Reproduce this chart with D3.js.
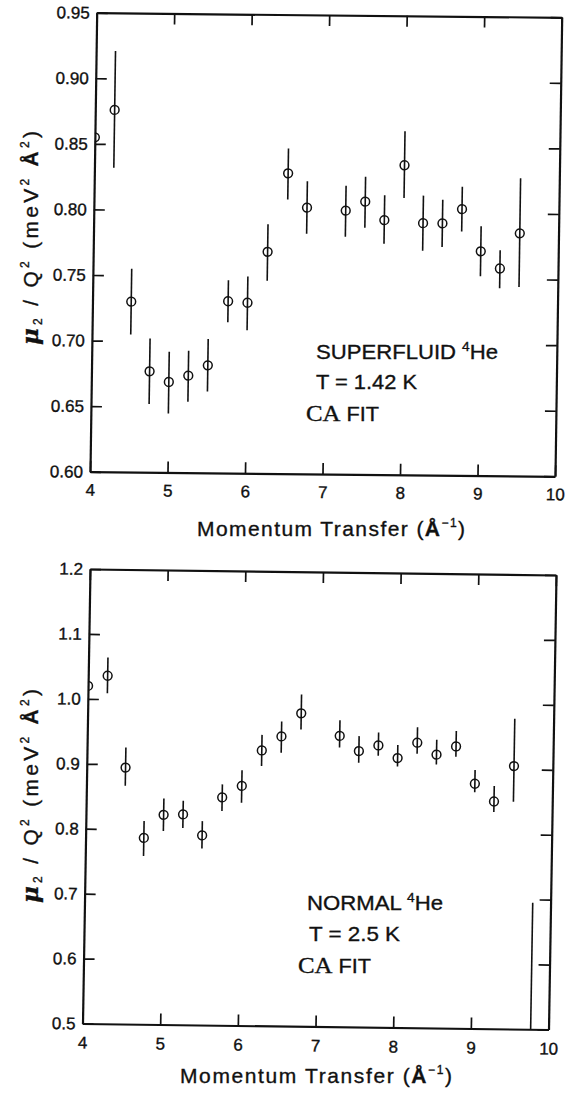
<!DOCTYPE html>
<html><head><meta charset="utf-8">
<script src="https://cdn.jsdelivr.net/npm/d3@7"></script>
<style>
body{margin:0;background:#fff}
svg{display:block}
text{font-family:"Liberation Sans",Arial,Helvetica,sans-serif;fill:#111;stroke:#111;stroke-width:0.35px}
</style>
</head><body>
<svg id="chart" width="570" height="1097"></svg>
<script>
// ---------- data ----------
const xTicks = [4, 5, 6, 7, 8, 9, 10];

// Superfluid 4He, T = 1.42 K
const qTop   = [4.0, 4.25, 4.5, 4.75, 5.0, 5.25, 5.5, 5.75, 6.0, 6.25, 6.5, 6.75, 7.25, 7.5, 7.75, 8.0, 8.25, 8.5, 8.75, 9.0, 9.25, 9.5];
const valTop = [0.855, 0.876, 0.730, 0.677, 0.669, 0.674, 0.682, 0.731, 0.730, 0.769, 0.829, 0.803, 0.801, 0.808, 0.794, 0.836, 0.792, 0.792, 0.803, 0.771, 0.758, 0.785];
const loTop  = [0.855, 0.832, 0.705, 0.652, 0.645, 0.654, 0.662, 0.715, 0.709, 0.747, 0.809, 0.783, 0.781, 0.788, 0.776, 0.811, 0.771, 0.774, 0.786, 0.752, 0.743, 0.744];
const hiTop  = [0.855, 0.921, 0.755, 0.702, 0.692, 0.693, 0.702, 0.747, 0.750, 0.790, 0.848, 0.823, 0.820, 0.827, 0.813, 0.862, 0.813, 0.810, 0.820, 0.790, 0.772, 0.827];
const yTicksTop = [0.60, 0.65, 0.70, 0.75, 0.80, 0.85, 0.90, 0.95];

// Normal 4He, T = 2.5 K
const qBot   = [4.0, 4.25, 4.5, 4.75, 5.0, 5.25, 5.5, 5.75, 6.0, 6.25, 6.5, 6.75, 7.25, 7.5, 7.75, 8.0, 8.25, 8.5, 8.75, 9.0, 9.25, 9.5, 9.77];
const valBot = [1.020, 1.036, 0.895, 0.787, 0.823, 0.824, 0.792, 0.851, 0.869, 0.924, 0.946, 0.982, 0.948, 0.925, 0.934, 0.915, 0.939, 0.921, 0.934, 0.877, 0.850, 0.905, 0.40];
const loBot  = [1.020, 1.009, 0.867, 0.759, 0.798, 0.803, 0.772, 0.830, 0.843, 0.900, 0.921, 0.957, 0.930, 0.907, 0.918, 0.902, 0.922, 0.906, 0.918, 0.864, 0.834, 0.850, 0.10];
const hiBot  = [1.020, 1.064, 0.926, 0.813, 0.848, 0.845, 0.814, 0.871, 0.893, 0.948, 0.969, 1.011, 0.972, 0.948, 0.954, 0.935, 0.963, 0.944, 0.958, 0.898, 0.874, 0.978, 0.695];
const yTicksBot = [0.5, 0.6, 0.7, 0.8, 0.9, 1.0, 1.1, 1.2];

// ---------- drawing ----------
const svg = d3.select("#chart");

const panels = [
  {id: "top", q: qTop, v: valTop, lo: loTop, hi: hiTop, yDom: [0.60, 0.95], yTicks: yTicksTop, fmt: d3.format(".2f"),
   W: 465, H: 459, m: [1, 0.0099, -0.0146, 1, 96.7, 12.7], xPad: 12},
  {id: "bot", q: qBot, v: valBot, lo: loBot, hi: hiBot, yDom: [0.5, 1.2], yTicks: yTicksBot, fmt: d3.format(".1f"),
   W: 466, H: 454.5, m: [1, 0.0129, -0.0165, 1, 90, 569], xPad: 13}
];

panels.forEach(p => {
  const g = svg.append("g").attr("transform", `matrix(${p.m.join(",")})`);
  const x = d3.scaleLinear().domain([4, 10]).range([0, p.W]);
  const y = d3.scaleLinear().domain(p.yDom).range([p.H, 0]);

  g.append("clipPath").attr("id", "clip-" + p.id)
    .append("rect").attr("x", 0).attr("y", 0).attr("width", p.W).attr("height", p.H);

  const styleAxis = sel => {
    sel.select(".domain").attr("stroke", "#111").attr("stroke-width", 2.2);
    sel.selectAll(".tick line").attr("stroke", "#111").attr("stroke-width", 1.7);
    sel.selectAll(".tick text").style("font-size", "17px").attr("fill", "#111");
  };

  g.append("g").attr("transform", `translate(0,${p.H})`)
    .call(d3.axisBottom(x).tickValues(xTicks).tickSize(-11).tickSizeOuter(0).tickPadding(p.xPad).tickFormat(d3.format("d")))
    .call(styleAxis);
  g.append("g")
    .call(d3.axisTop(x).tickValues(xTicks).tickSize(-11).tickSizeOuter(0).tickFormat(""))
    .call(styleAxis);
  g.append("g")
    .call(d3.axisLeft(y).tickValues(p.yTicks).tickSize(-11).tickSizeOuter(0).tickPadding(7).tickFormat(p.fmt))
    .call(styleAxis);
  g.append("g").attr("transform", `translate(${p.W},0)`)
    .call(d3.axisRight(y).tickValues(p.yTicks).tickSize(-11).tickSizeOuter(0).tickFormat(""))
    .call(styleAxis);

  const data = p.q.map((q, i) => ({q, v: p.v[i], lo: p.lo[i], hi: p.hi[i]}));
  const marks = g.append("g").attr("clip-path", `url(#clip-${p.id})`);
  marks.selectAll("line.err").data(data).join("line").attr("class", "err")
    .attr("x1", d => x(d.q)).attr("x2", d => x(d.q))
    .attr("y1", d => y(d.lo)).attr("y2", d => y(d.hi))
    .attr("stroke", "#111").attr("stroke-width", 1.6);
  marks.selectAll("circle").data(data).join("circle")
    .attr("cx", d => x(d.q)).attr("cy", d => y(d.v)).attr("r", 4.4)
    .attr("fill", "none").attr("stroke", "#111").attr("stroke-width", 1.5);
});

// y-axis titles
function yTitle(cx, cy) {
  const t = svg.append("text")
    .attr("transform", `translate(${cx},${cy}) rotate(-90)`)
    .attr("text-anchor", "middle").style("font-size", "21px")
    .attr("textLength", 214).attr("lengthAdjust", "spacing");
  t.append("tspan").text("μ").style("font-weight", "bold").style("font-style", "italic").style("font-family", "'DejaVu Serif',serif").style("font-size", "23px");
  t.append("tspan").text("2").style("font-size", "12px").attr("dy", 4);
  t.append("tspan").text(" / Q").attr("dy", -4);
  t.append("tspan").text("2").style("font-size", "12px").attr("dy", -9);
  t.append("tspan").text(" (meV").attr("dy", 9);
  t.append("tspan").text("2").style("font-size", "12px").attr("dy", -9);
  t.append("tspan").text(" Å").attr("dy", 9).style("font-weight", "bold");
  t.append("tspan").text("2").style("font-size", "12px").attr("dy", -9);
  t.append("tspan").text(")").attr("dy", 9);
}
yTitle(38, 238);
yTitle(38, 796);

// x-axis titles
function xTitle(x0, len, yb) {
  const t = svg.append("text").attr("x", x0).attr("y", yb)
    .style("font-size", "21px").attr("textLength", len).attr("lengthAdjust", "spacing");
  t.append("tspan").text("Momentum Transfer  (");
  t.append("tspan").text("Å").style("font-weight", "bold");
  t.append("tspan").text("−1").style("font-size", "12px").attr("dy", -9);
  t.append("tspan").text(")").attr("dy", 9);
}
xTitle(197, 268, 536);
xTitle(180, 272, 1083);

// annotations
function note(x1, y1, name, len1, x2, y2, temp, len2, x3, y3) {
  const a = svg.append("text").attr("x", x1).attr("y", y1).style("font-size", "21px")
    .attr("textLength", len1).attr("lengthAdjust", "spacingAndGlyphs");
  a.append("tspan").text(name + " ");
  a.append("tspan").text("4").style("font-size", "13px").attr("dy", -8);
  a.append("tspan").text("He").attr("dy", 8);
  svg.append("text").attr("x", x2).attr("y", y2).style("font-size", "21px")
    .attr("textLength", len2).attr("lengthAdjust", "spacingAndGlyphs").text(temp);
  const c = svg.append("text").attr("x", x3).attr("y", y3).style("font-size", "23px")
    .attr("textLength", 73).attr("lengthAdjust", "spacingAndGlyphs");
  c.append("tspan").text("CA").style("font-family", "'Liberation Serif','Times New Roman',serif");
  c.append("tspan").text(" FIT").style("font-size", "20px");
}
note(316, 359, "SUPERFLUID", 182, 316, 389, "T = 1.42 K", 101, 306, 421);
note(307, 910, "NORMAL", 136, 309, 941, "T = 2.5 K", 91, 298, 973);
</script>
</body></html>
